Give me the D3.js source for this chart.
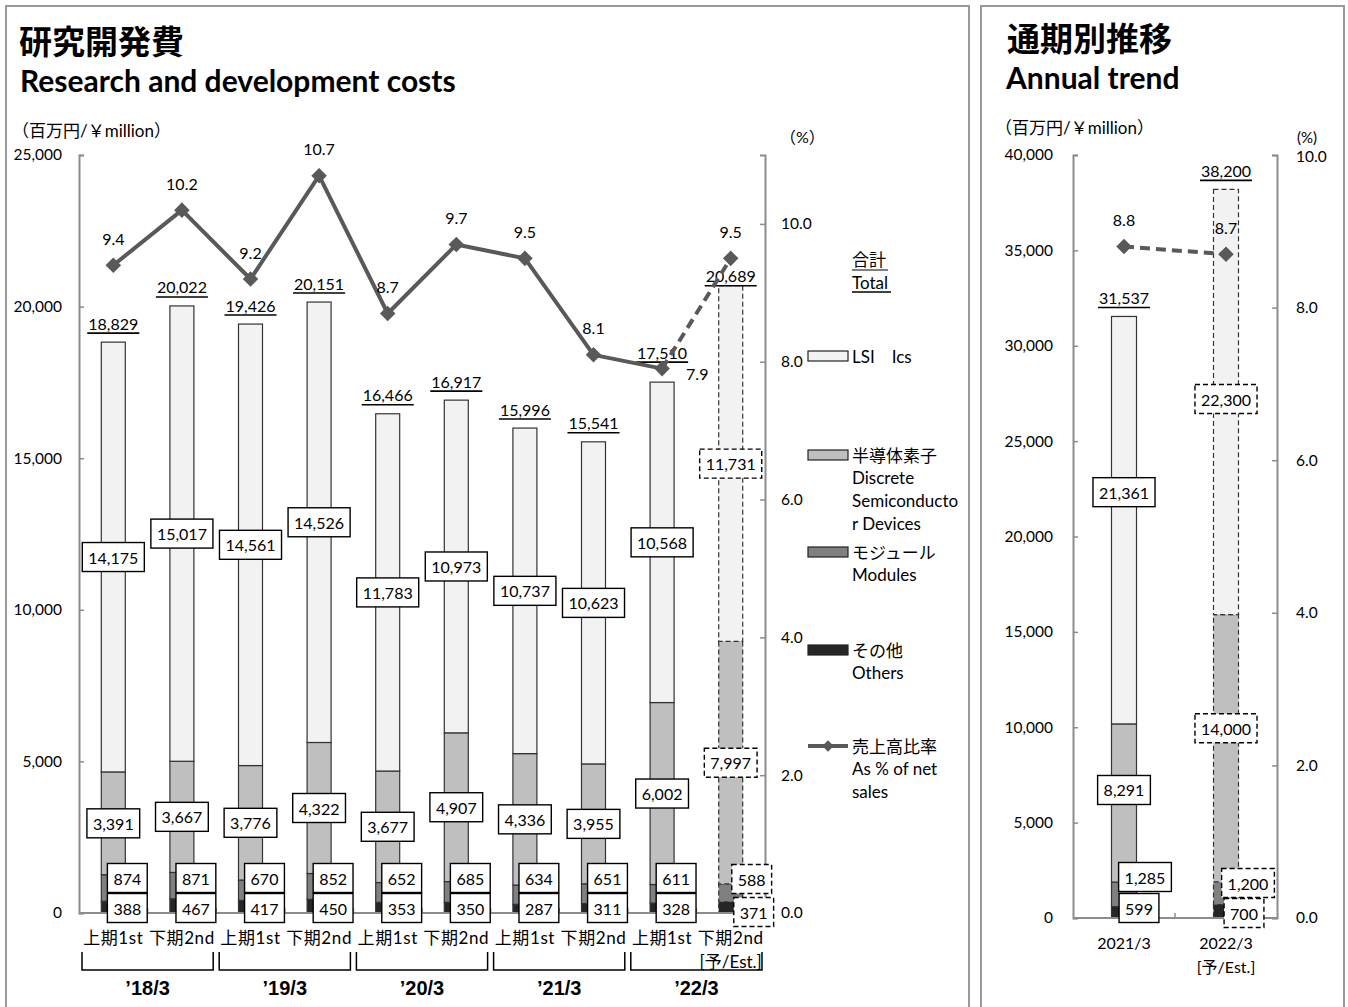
<!DOCTYPE html>
<html><head><meta charset="utf-8">
<script src="https://cdn.jsdelivr.net/npm/d3@7/dist/d3.min.js"></script>
<style>
body{margin:0;background:#fff}
text{font-family:Lato,"Noto Sans CJK JP",sans-serif;fill:#000}
</style>
</head><body>
<svg id="c" width="1348" height="1007"></svg>
<script>
// ---------- DATA ----------
const halfCats   = ["上期1st","下期2nd","上期1st","下期2nd","上期1st","下期2nd","上期1st","下期2nd","上期1st","下期2nd"];
const halfYears  = ["’18/3","’19/3","’20/3","’21/3","’22/3"];
const halfLSI      = [14175,15017,14561,14526,11783,10973,10737,10623,10568,11731];
const halfDiscrete = [3391,3667,3776,4322,3677,4907,4336,3955,6002,7997];
const halfModules  = [874,871,670,852,652,685,634,651,611,588];
const halfOthers   = [388,467,417,450,353,350,287,311,328,371];
const halfTotal    = [18829,20022,19426,20151,16466,16917,15996,15541,17510,20689];
const halfRatio    = [9.4,10.2,9.2,10.7,8.7,9.7,9.5,8.1,7.9,9.5];
const halfEst      = [false,false,false,false,false,false,false,false,false,true];

const annCats     = ["2021/3","2022/3"];
const annLSI      = [21361,22300];
const annDiscrete = [8291,14000];
const annModules  = [1285,1200];
const annOthers   = [599,700];
const annTotal    = [31537,38200];
const annRatio    = [8.8,8.7];
const annEst      = [false,true];

const leftTicks   = [0,5000,10000,15000,20000,25000];
const leftPctTicks= [0,2,4,6,8,10];
const annTicks    = [0,5000,10000,15000,20000,25000,30000,35000,40000];
const annPctTicks = [0,2,4,6,8,10];

const legendItems = [
  {type:"rect", color:"#f2f2f2", lines:["LSI　Ics"]},
  {type:"rect", color:"#bfbfbf", lines:["半導体素子","Discrete","Semiconducto","r Devices"]},
  {type:"rect", color:"#808080", lines:["モジュール","Modules"]},
  {type:"rect", color:"#262626", lines:["その他","Others"]},
  {type:"line", color:"#595959", lines:["売上高比率","As % of net","sales"]}
];

// ---------- STYLE ----------
const colors = {others:"#262626", modules:"#808080", discrete:"#bfbfbf", lsi:"#f2f2f2"};
const lineColor = "#595959";
const axisColor = "#8c8c8c";
const keys = ["others","modules","discrete","lsi"];
const fmt = d3.format(",");

const svg = d3.select("#c");

// panel borders
svg.append("rect").attr("x",6).attr("y",6).attr("width",963).attr("height",1020)
  .attr("fill","none").attr("stroke","#9a9a9a").attr("stroke-width",2);
svg.append("rect").attr("x",981).attr("y",6).attr("width",363).attr("height",1020)
  .attr("fill","none").attr("stroke","#9a9a9a").attr("stroke-width",2);

function txt(x,y,s,opt={}){
  const t = svg.append("text").attr("x",x).attr("y",y).text(s)
    .attr("font-size",opt.size||16).attr("dominant-baseline",opt.base||"central");
  if(opt.weight) t.attr("font-weight",opt.weight);
  if(opt.anchor) t.attr("text-anchor",opt.anchor);
  if(opt.family) t.style("font-family",opt.family);
  return t;
}
txt(19,40,"研究開発費",{size:33,weight:700,family:'"Noto Sans CJK JP",sans-serif'});
txt(20,80,"Research and development costs",{size:30,weight:700});
txt(1007,37,"通期別推移",{size:33,weight:700,family:'"Noto Sans CJK JP",sans-serif'});
txt(1006,77,"Annual trend",{size:30,weight:700});
txt(12,130,"（百万円/￥million）",{size:17});
txt(995,127,"（百万円/￥million）",{size:17});
txt(780,136,"（%）",{size:16});
txt(1297,137,"(%)",{size:15});

function labelBox(g,cx,cy,s,dashed,fs){
  const gg = g.append("g");
  const r = gg.append("rect");
  const t = gg.append("text").attr("x",cx).attr("y",cy).attr("text-anchor","middle")
    .attr("dominant-baseline","central").attr("font-size",fs||16).text(s);
  const w = t.node().getComputedTextLength()+12, h = 29;
  r.attr("x",cx-w/2).attr("y",cy-h/2).attr("width",w).attr("height",h)
   .attr("fill","#fff").attr("stroke","#000").attr("stroke-width",1.4)
   .attr("stroke-dasharray",dashed?"5,3":null);
}

function diamond(g,x,y,s){
  g.append("rect").attr("x",-s/2).attr("y",-s/2).attr("width",s).attr("height",s)
   .attr("fill",lineColor).attr("transform",`translate(${x},${y}) rotate(45)`);
}

function drawPanel(cfg){
  const g = svg.append("g");
  const x = d3.scaleBand().domain(cfg.cats.map((d,i)=>i)).range(cfg.xr);
  const y = d3.scaleLinear().domain(cfg.yd).range(cfg.yr);
  const y2 = d3.scaleLinear().domain(cfg.y2d).range(cfg.yr);
  const cx = i => x(i)+x.bandwidth()/2;
  const bw = cfg.bw;

  const la = g.append("g").attr("transform",`translate(${cfg.xr[0]},0)`)
    .call(d3.axisLeft(y).tickValues(cfg.ticks).tickFormat(fmt).tickSizeInner(-5).tickSizeOuter(-5).tickPadding(cfg.lpad));
  const ra = g.append("g").attr("transform",`translate(${cfg.xr[1]},0)`)
    .call(d3.axisRight(y2).tickValues(cfg.pticks).tickFormat(d3.format(".1f")).tickSizeInner(-5).tickSizeOuter(-5).tickPadding(cfg.rpad));
  [la,ra].forEach(a=>{
    a.select(".domain").attr("stroke",axisColor).attr("stroke-width",2);
    a.selectAll(".tick line").attr("stroke",axisColor).attr("stroke-width",1.5);
    a.selectAll(".tick text").attr("font-size",15.5).attr("fill","#000")
      .style("font-family","Lato,sans-serif");
  });
  if(cfg.pctTopDy) ra.selectAll(".tick text").filter(d=>d===cfg.pticks[cfg.pticks.length-1]).attr("dy","0.45em");

  // bars
  const table = cfg.cats.map((c,i)=>({others:cfg.others[i],modules:cfg.modules[i],discrete:cfg.discrete[i],lsi:cfg.lsi[i]}));
  const stack = d3.stack().keys(keys)(table);
  stack.forEach(s=>{
    g.selectAll(null).data(s).join("rect")
      .attr("x",(d,i)=>cx(i)-bw/2).attr("width",bw)
      .attr("y",d=>y(d[1])).attr("height",d=>y(d[0])-y(d[1]))
      .attr("fill",colors[s.key]).attr("stroke","#333").attr("stroke-width",1.2)
      .attr("stroke-dasharray",(d,i)=>cfg.est[i]?"5,3":null);
  });

  // x axis
  g.append("line").attr("x1",cfg.xr[0]).attr("x2",cfg.xr[1]).attr("y1",cfg.yr[0]).attr("y2",cfg.yr[0])
    .attr("stroke",axisColor).attr("stroke-width",2);
  cfg.cats.forEach((c,i)=>{
    if(i===0) return;
    g.append("line").attr("x1",x(i)).attr("x2",x(i)).attr("y1",cfg.yr[0]).attr("y2",cfg.yr[0]-5)
      .attr("stroke",axisColor).attr("stroke-width",1.5);
  });

  // segment labels
  const sLsi = stack[3], sDisc = stack[2];
  cfg.cats.forEach((c,i)=>{
    const e = cfg.est[i];
    const dLsi = cfg.lsiDy ? cfg.lsiDy[i] : 0;
    const dDisc = cfg.discDy ? cfg.discDy[i] : 0;
    labelBox(g,cx(i),(y(sLsi[i][0])+y(sLsi[i][1]))/2+dLsi,fmt(cfg.lsi[i]),e);
    labelBox(g,cx(i),(y(sDisc[i][0])+y(sDisc[i][1]))/2+dDisc,fmt(cfg.discrete[i]),e);
    labelBox(g,cx(i)+cfg.modDx[e?1:0],cfg.modY[e?1:0],fmt(cfg.modules[i]),e);
    labelBox(g,cx(i)+cfg.othDx[e?1:0],cfg.othY[e?1:0],fmt(cfg.others[i]),e);
  });

  // totals
  cfg.cats.forEach((c,i)=>{
    let ty = y(cfg.total[i]) - 19;
    if(cfg.totalNudge && cfg.totalNudge[i]!==undefined) ty = y(cfg.total[i]) + cfg.totalNudge[i];
    const t = g.append("text").attr("x",cx(i)).attr("y",ty).attr("text-anchor","middle")
      .attr("dominant-baseline","central").attr("font-size",16).text(fmt(cfg.total[i]));
    const w = t.node().getComputedTextLength();
    g.append("line").attr("x1",cx(i)-w/2-1).attr("x2",cx(i)+w/2+1).attr("y1",ty+10).attr("y2",ty+10)
      .attr("stroke","#000").attr("stroke-width",1.6);
  });

  // ratio line
  const pts = cfg.ratio.map((r,i)=>[cx(i),y2(r)]);
  const solid = pts.filter((p,i)=>!cfg.est[i]);
  if(solid.length>1){
    g.append("path").attr("d",d3.line()(solid)).attr("fill","none")
      .attr("stroke",lineColor).attr("stroke-width",4).attr("stroke-linejoin","round");
  }
  cfg.ratio.forEach((r,i)=>{
    if(cfg.est[i] && i>0){
      g.append("path").attr("d",d3.line()([pts[i-1],pts[i]])).attr("fill","none")
        .attr("stroke",lineColor).attr("stroke-width",4).attr("stroke-dasharray","10,6");
    }
  });
  pts.forEach(p=>diamond(g,p[0],p[1],11));
  cfg.ratio.forEach((r,i)=>{
    let lx = cx(i), ly = y2(r)-27, anchor="middle";
    if(cfg.sideLabels && cfg.sideLabels.includes(i)){ lx = cx(i)+24; ly = y2(r)+5; anchor="start"; }
    g.append("text").attr("x",lx).attr("y",ly).attr("text-anchor",anchor)
      .attr("dominant-baseline","central").attr("font-size",16).text(d3.format(".1f")(r));
  });

  // category labels
  cfg.cats.forEach((c,i)=>{
    g.append("text").attr("x",cx(i)).attr("y",cfg.catY).attr("text-anchor","middle")
      .attr("dominant-baseline","central").attr("font-size",cfg.catSize)
      .attr("letter-spacing",cfg.catLS).text(c);
    if(cfg.est[i]){
      g.append("text").attr("x",cx(i)).attr("y",cfg.catY+24).attr("text-anchor","middle")
        .attr("dominant-baseline","central").attr("font-size",cfg.catSize).text("[予/Est.]");
    }
  });
  return {x,y,y2,cx};
}

const L = drawPanel({
  cats:halfCats, lsi:halfLSI, discrete:halfDiscrete, modules:halfModules, others:halfOthers,
  total:halfTotal, ratio:halfRatio, est:halfEst,
  xr:[79,765], yd:[0,25000], yr:[913,155], y2d:[0,11], ticks:leftTicks, pticks:leftPctTicks,
  lpad:17, rpad:16, bw:24,
  modDx:[14,21], modY:[878,879], othDx:[14,23], othY:[908,912],
  totalNudge:{8:-30,9:-10}, sideLabels:[8], catY:937, catSize:17, catLS:0.6
});

// year brackets
halfYears.forEach((yr,k)=>{
  const x0 = L.x(2*k)+3, x1 = L.x(2*k+1)+L.x.bandwidth()-3;
  svg.append("path").attr("d",`M${x0},952V970H${x1}V952`).attr("fill","none")
    .attr("stroke","#000").attr("stroke-width",1.5);
  svg.append("text").attr("x",(x0+x1)/2).attr("y",988).attr("text-anchor","middle")
    .attr("dominant-baseline","central").attr("font-size",20).attr("font-weight",700)
    .style("font-family","'Liberation Sans',Arial,sans-serif").text(yr);
});

drawPanel({
  cats:annCats, lsi:annLSI, discrete:annDiscrete, modules:annModules, others:annOthers,
  total:annTotal, ratio:annRatio, est:annEst,
  xr:[1073,1277], yd:[0,40000], yr:[918,155], y2d:[0,10], ticks:annTicks, pticks:annPctTicks,
  lpad:20, rpad:19, bw:25,
  lsiDy:[-28,-3], discDy:[-13,-20],
  modDx:[21,22], modY:[877,883], othDx:[15,18], othY:[908,913],
  catY:942, catSize:16, catLS:0, pctTopDy:true
});

// legend
svg.append("text").attr("x",852).attr("y",259).attr("dominant-baseline","central").attr("font-size",17).text("合計");
svg.append("text").attr("x",852).attr("y",282).attr("dominant-baseline","central").attr("font-size",17).text("Total");
svg.append("line").attr("x1",852).attr("x2",888).attr("y1",270).attr("y2",270).attr("stroke","#000").attr("stroke-width",1.2);
svg.append("line").attr("x1",852).attr("x2",891).attr("y1",292).attr("y2",292).attr("stroke","#000").attr("stroke-width",1.6);

const legY = [356,455,552,650,746];
legendItems.forEach((it,k)=>{
  const yy = legY[k];
  if(it.type==="rect"){
    svg.append("rect").attr("x",808).attr("y",yy-5).attr("width",40).attr("height",10)
      .attr("fill",it.color).attr("stroke","#222").attr("stroke-width",1.2);
  } else {
    svg.append("line").attr("x1",808).attr("x2",848).attr("y1",yy).attr("y2",yy)
      .attr("stroke",it.color).attr("stroke-width",4);
    diamond(svg,828,yy,8);
  }
  it.lines.forEach((s,j)=>{
    svg.append("text").attr("x",852).attr("y",yy+j*22.7).attr("dominant-baseline","central")
      .attr("font-size",17).text(s);
  });
});
</script>
</body></html>
